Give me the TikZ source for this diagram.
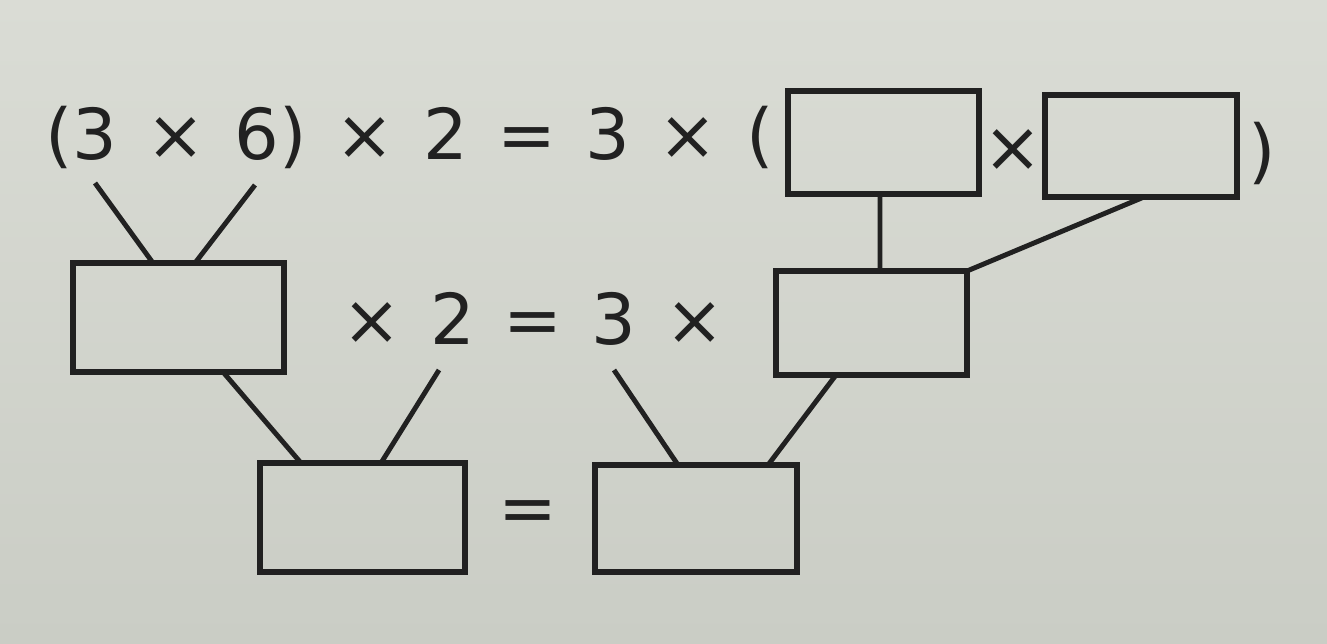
\documentclass[tikz,border=0pt]{standalone}
\usepackage{fontspec}
\setmainfont{DejaVu Sans}[WordSpace=1.3]
\usetikzlibrary{positioning,calc}
\definecolor{paper}{RGB}{202,205,197}
\definecolor{paperhi}{RGB}{218,220,213}
\definecolor{ink}{RGB}{33,33,33}
\tikzset{blank/.style 2 args={draw=ink, line width=3.3pt, inner sep=0, outer sep=0, minimum width=#1, minimum height=#2}}
\tikzset{eqn/.style={text=ink, inner sep=0, font=\fontsize{40}{48}\selectfont}}
\tikzset{link/.style={draw=ink, line width=2.8pt}}
\begin{document}
\begin{tikzpicture}[x=0.02cm, y=-0.02cm]
			\useasboundingbox (0,0) rectangle (1327,644);
			\shade[top color=paperhi, bottom color=paper] (0,0) rectangle (1327,644);
			% first line
			\node[eqn, anchor=base west] (top) at (45,160) {(3 × 6) × 2 = 3 × (};
			\node[blank={3.82cm}{2.06cm}] (A) at (883.5,142.5) {};
			\node[eqn, anchor=base] (mul) at (1013,172) {×};
			\node[blank={3.84cm}{2.04cm}] (B) at (1141,146) {};
			\node[eqn, anchor=base] (rp) at (1262,176) {)};
			% second line
			\node[blank={4.22cm}{2.18cm}] (C) at (178.5,317.5) {};
			\node[eqn, anchor=base west] (mid) at (342,345) {× 2 = 3 ×};
			\node[blank={3.82cm}{2.08cm}] (D) at (871.5,323) {};
			% third line
			\node[blank={4.1cm}{2.18cm}] (E) at (362.5,517.5) {};
			\node[eqn] (eq) at (528,517) {=};
			\node[blank={4.04cm}{2.14cm}] (F) at (696,518.5) {};
			\coordinate (c3) at (95,183);
			\coordinate (c6) at (255,185);
			\coordinate (c2) at (439,370);
			\coordinate (d3) at (614,370);
			\draw[link] (c3) -- ($(C.north)+(-25.5,0)$);
			\draw[link] (c6) -- ($(C.north)+(16.5,0)$);
			\draw[link] ($(A.south)+(-3.5,0)$) -- ($(D.north)+(8.5,0)$);
			\draw[link] ($(B.south)+(3,0)$) -- (D.north east);
			\draw[link] ($(C.south)+(44.5,0)$) -- ($(E.north)+(-61.5,0)$);
			\draw[link] (c2) -- ($(E.north)+(18.5,0)$);
			\draw[link] (d3) -- ($(F.north)+(-18,0)$);
			\draw[link] ($(D.south)+(-35.5,0)$) -- ($(F.north)+(72,0)$);
\end{tikzpicture}
\end{document}
